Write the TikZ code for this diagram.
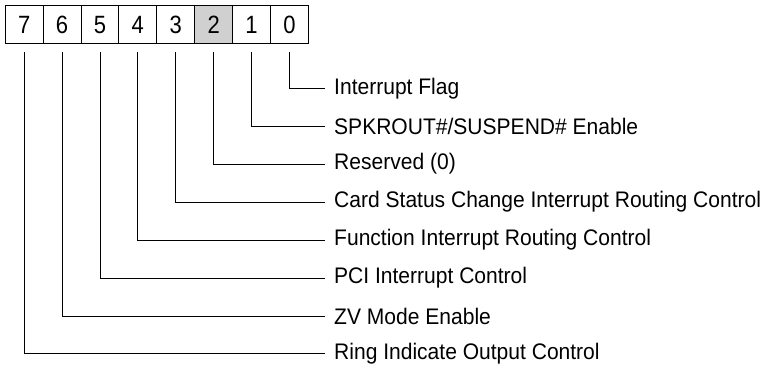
\documentclass[tikz,border=0pt]{standalone}
\usepackage{fontspec}
\setmainfont{Liberation Sans}[FakeStretch=0.935]
\newfontfamily\digitfont{Liberation Sans}[FakeStretch=0.88]
\begin{document}
\begin{tikzpicture}[x=1pt,y=-1pt,
  cell/.style={draw,line width=1pt,minimum width=37.9pt,minimum height=38.3pt,anchor=north west,inner sep=0pt,font=\digitfont\fontsize{25}{25}\selectfont},
  lbl/.style={anchor=west,inner sep=0pt,font=\fontsize{22.5}{22.5}\selectfont},
  wire/.style={line width=0.9pt}]
\useasboundingbox (0,0) rectangle (767,364);
\foreach \b [count=\i from 0] in {7,6,5,4,3,2,1,0} {
  \ifnum\b=2
    \node[cell,fill={rgb,255:red,208;green,208;blue,208}] (c\b) at ({4.7+37.9*\i},5) {\b};
  \else
    \node[cell] (c\b) at ({4.7+37.9*\i},5) {\b};
  \fi
}
\foreach \b/\yy/\t in {0/88.3/{Interrupt Flag},
  1/126.3/{SPKROUT\#/SUSPEND\# Enable},
  2/164/{Reserved (0)},
  3/202/{Card Status Change Interrupt Routing Control},
  4/240/{Function Interrupt Routing Control},
  5/278/{PCI Interrupt Control},
  6/316/{ZV Mode Enable},
  7/353.5/{Ring Indicate Output Control}} {
  \node[lbl] (t\b) at (334,\yy) {\t};
  \coordinate (s\b) at ([yshift=-7.5pt]c\b.south);
  \draw[wire] (s\b) |- (325,\yy);
}
\end{tikzpicture}
\end{document}
